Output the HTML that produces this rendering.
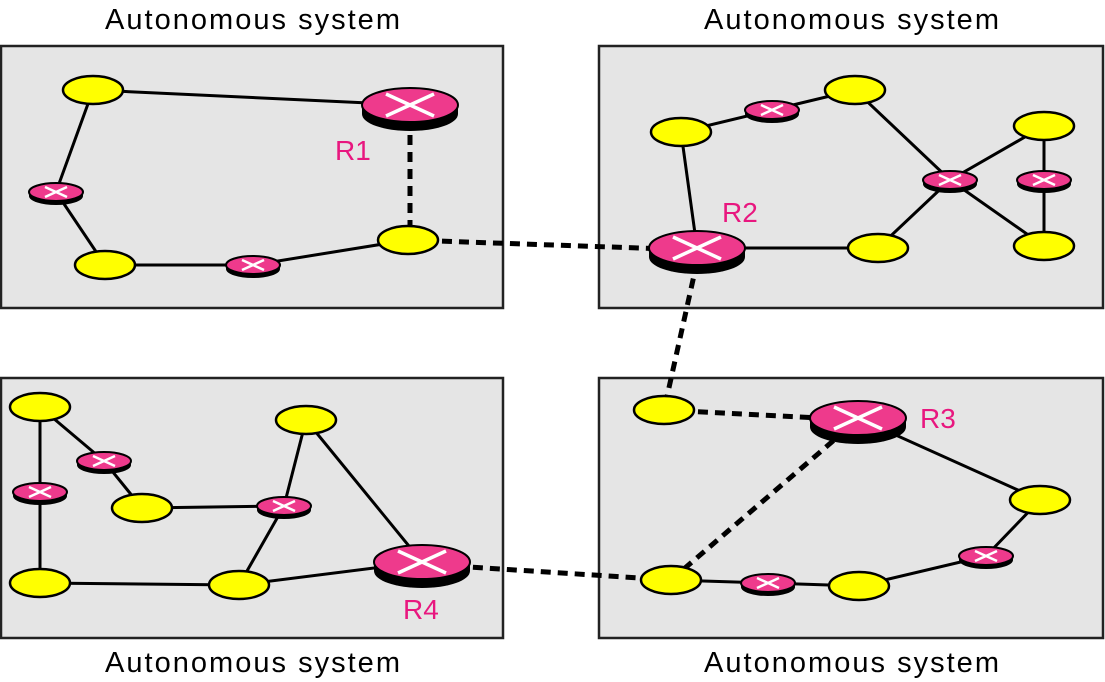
<!DOCTYPE html>
<html><head><meta charset="utf-8"><style>html,body{margin:0;padding:0;background:#fff}svg{display:block}</style></head><body>
<svg width="1105" height="682" viewBox="0 0 1105 682" xmlns="http://www.w3.org/2000/svg" font-family="Liberation Sans, sans-serif">
<defs>
<g id="Y"><ellipse cx="0" cy="0" rx="30" ry="14" fill="#ffff00" stroke="#000" stroke-width="2.5"/></g>
<g id="S"><ellipse cx="0" cy="4" rx="27" ry="9" fill="#000"/><rect x="-27" y="0" width="54" height="4" fill="#000"/><ellipse cx="0" cy="0" rx="27" ry="9" fill="#ee3a8c" stroke="#000" stroke-width="2"/><path d="M-11,-5 L11,5 M-11,5 L11,-5" stroke="#fff" stroke-width="2.5"/></g>
<g id="B"><ellipse cx="0" cy="9" rx="48" ry="17" fill="#000"/><rect x="-48" y="0" width="96" height="9" fill="#000"/><ellipse cx="0" cy="0" rx="48" ry="17" fill="#ee3a8c" stroke="#000" stroke-width="2"/><path d="M-24,-11 L24,11 M-24,11 L24,-11" stroke="#fff" stroke-width="3.5"/></g>
</defs>
<g fill="#e5e5e5" stroke="#222" stroke-width="2.5">
<rect x="1" y="46" width="502" height="262"/>
<rect x="599" y="46" width="504" height="262"/>
<rect x="1" y="378" width="502" height="260"/>
<rect x="599" y="378" width="504" height="260"/>
</g>
<g font-size="29" fill="#000">
<text x="105" y="29" textLength="295">Autonomous system</text>
<text x="704" y="29" textLength="295">Autonomous system</text>
<text x="105" y="672" textLength="295">Autonomous system</text>
<text x="704" y="672" textLength="295">Autonomous system</text>
</g>
<g stroke="#000" stroke-width="3" fill="none">
<path d="M93,90 L410,105 M93,90 L56,192 L105,265 L253,265 L408,240"/>
<path d="M681,132 L697,248 M681,132 L772,110 L855,90 L950,180 L1044,126 M950,180 L1044,246 M950,180 L878,248 L697,248 M1044,126 L1044,246"/>
<path d="M858,418 L1040,500 L986,556 L859,586 L768,583 L671,580"/>
<path d="M40,407 L104,461 L142,508 L284,506 L306,420 L422,562 M40,407 L40,583 L239,585 L422,562 M284,506 L239,585"/>
</g>
<g stroke="#000" stroke-width="5" stroke-dasharray="10,7" fill="none">
<path d="M410,118 L410,240"/>
<path d="M408,240 L697,250"/>
<path d="M697,262 L664,410"/>
<path d="M664,410 L858,420"/>
<path d="M671,580 L840,435"/>
<path d="M422,564 L671,580"/>
</g>
<use href="#Y" x="93" y="90"/><use href="#S" x="56" y="192"/><use href="#Y" x="105" y="265"/><use href="#S" x="253" y="265"/><use href="#Y" x="408" y="240"/><use href="#B" x="410" y="105"/>
<use href="#Y" x="681" y="132"/><use href="#S" x="772" y="110"/><use href="#Y" x="855" y="90"/><use href="#Y" x="1044" y="126"/><use href="#S" x="950" y="180"/><use href="#S" x="1044" y="180"/><use href="#Y" x="1044" y="246"/><use href="#Y" x="878" y="248"/><use href="#B" x="697" y="248"/>
<use href="#Y" x="40" y="407"/><use href="#S" x="104" y="461"/><use href="#S" x="40" y="492"/><use href="#Y" x="142" y="508"/><use href="#S" x="284" y="506"/><use href="#Y" x="306" y="420"/><use href="#Y" x="40" y="583"/><use href="#Y" x="239" y="585"/><use href="#B" x="422" y="562"/>
<use href="#Y" x="664" y="410"/><use href="#Y" x="1040" y="500"/><use href="#S" x="986" y="556"/><use href="#Y" x="859" y="586"/><use href="#S" x="768" y="583"/><use href="#Y" x="671" y="580"/><use href="#B" x="858" y="418"/>
<g font-size="28" fill="#e8177f">
<text x="335" y="160">R1</text>
<text x="722" y="222">R2</text>
<text x="920" y="428">R3</text>
<text x="403" y="619">R4</text>
</g>
</svg>
</body></html>
